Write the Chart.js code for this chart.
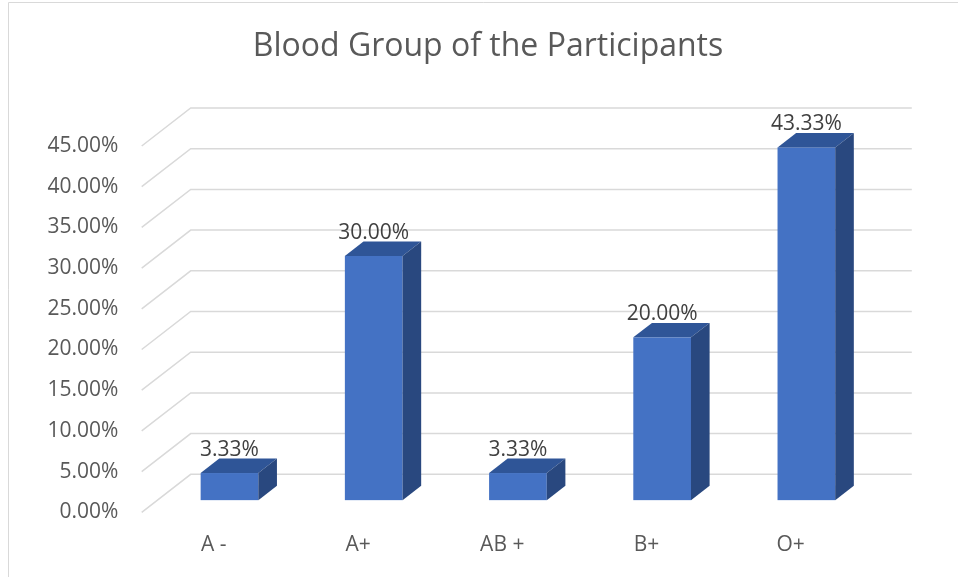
<!DOCTYPE html>
<html>
<head>
<meta charset="utf-8">
<script src="https://cdn.jsdelivr.net/npm/chart.js@4"></script>
<style>
  html, body { margin: 0; padding: 0; background: #ffffff; }
  #wrap { width: 958px; height: 577px; }
</style>
</head>
<body>
<div id="wrap"><canvas id="bloodChart" width="958" height="577"></canvas></div>
<script>
// Blood group share of participants, in percent
const groups = ['A -', 'A+', 'AB +', 'B+', 'O+'];
const shares = [3.33, 30.00, 3.33, 20.00, 43.33];
const axisMax = 45;
const axisStep = 5;
const chartTitle = 'Blood Group of the Participants';

// oblique depth of the floor, and where the bars sit inside it
const depth = { x: 49, y: -38 };
const barFront = 0.32;   // bars start this far back from the front edge
const barDepth = 0.38;   // and are this deep

const faceColor = '#4472c4';
const topColor = '#2f5597';
const sideColor = '#29487f';
const gridColor = '#d9d9d9';

// frame (only top and left edges show in the original) + title
// the title is drawn by hand: Excel centres it a bit right of the plot, not on it
const framePlugin = {
  id: 'frame',
  beforeDraw(chart) {
    const c = chart.ctx;
    c.save();
    c.strokeStyle = gridColor;
    c.lineWidth = 1;
    c.beginPath();
    c.moveTo(8.5, chart.height);
    c.lineTo(8.5, 2.5);
    c.lineTo(chart.width, 2.5);
    c.stroke();

    c.fillStyle = '#595959';
    c.font = '32px "Open Sans"';
    c.textAlign = 'center';
    c.textBaseline = 'alphabetic';
    c.fillText(chartTitle, 488, 56);
    c.restore();
  }
};

// 3D-ish gridlines: diagonal on the left side wall, then flat along the back wall
const wallPlugin = {
  id: 'walls',
  beforeDatasetsDraw(chart) {
    const c = chart.ctx;
    const area = chart.chartArea;
    const y = chart.scales.y;
    c.save();
    c.strokeStyle = gridColor;
    c.lineWidth = 1.5;
    y.ticks.forEach(t => {
      const py = y.getPixelForValue(t.value);
      c.beginPath();
      c.moveTo(area.left, py);
      c.lineTo(area.left + depth.x, py + depth.y);
      c.lineTo(area.right + depth.x, py + depth.y);
      c.stroke();
    });
    c.restore();
  }
};

// boxes + value labels, built on top of the (invisible) native bars
const boxPlugin = {
  id: 'boxes',
  afterDatasetsDraw(chart) {
    const c = chart.ctx;
    const meta = chart.getDatasetMeta(0);
    const ox = depth.x * barFront, oy = depth.y * barFront;
    const dx = depth.x * barDepth, dy = depth.y * barDepth;
    c.save();
    meta.data.forEach((bar, i) => {
      const left = bar.x - bar.width / 2 + ox;
      const right = bar.x + bar.width / 2 + ox;
      const top = bar.y + oy;
      const bottom = bar.base + oy;

      c.fillStyle = faceColor;
      c.fillRect(left, top, right - left, bottom - top);

      c.fillStyle = topColor;
      c.beginPath();
      c.moveTo(left, top);
      c.lineTo(left + dx, top + dy);
      c.lineTo(right + dx, top + dy);
      c.lineTo(right, top);
      c.closePath();
      c.fill();

      c.fillStyle = sideColor;
      c.beginPath();
      c.moveTo(right, top);
      c.lineTo(right + dx, top + dy);
      c.lineTo(right + dx, bottom + dy);
      c.lineTo(right, bottom);
      c.closePath();
      c.fill();

      c.fillStyle = '#404040';
      c.font = '21px "Open Sans"';
      c.textAlign = 'center';
      c.textBaseline = 'alphabetic';
      c.fillText(shares[i].toFixed(2) + '%', (left + right) / 2, top + dy - 3);
    });
    c.restore();
  }
};

const ctx = document.getElementById('bloodChart').getContext('2d');

new Chart(ctx, {
  type: 'bar',
  data: {
    labels: groups,
    datasets: [{
      data: shares,
      backgroundColor: 'rgba(0,0,0,0)',
      borderWidth: 0,
      barPercentage: 0.4,
      categoryPercentage: 1
    }]
  },
  options: {
    responsive: false,
    animation: false,
    layout: { padding: { left: 0, right: 95.2, top: 146, bottom: 0 } },
    plugins: {
      legend: { display: false },
      tooltip: { enabled: false },
      title: { display: false }
    },
    scales: {
      x: {
        grid: { display: false, drawTicks: false },
        border: { display: false },
        ticks: { color: '#595959', font: { family: 'Open Sans', size: 21 }, padding: 20 },
        afterFit(s) { s.height = 64.7; }
      },
      y: {
        min: 0,
        max: axisMax,
        grid: { display: false, drawTicks: false },
        border: { display: false },
        ticks: {
          stepSize: axisStep,
          color: '#595959',
          font: { family: 'Open Sans', size: 21 },
          padding: 23.4,
          callback: v => v.toFixed(2) + '%'
        },
        afterFit(s) { s.width = 141.7; }
      }
    }
  },
  plugins: [framePlugin, wallPlugin, boxPlugin]
});
</script>
</body>
</html>
